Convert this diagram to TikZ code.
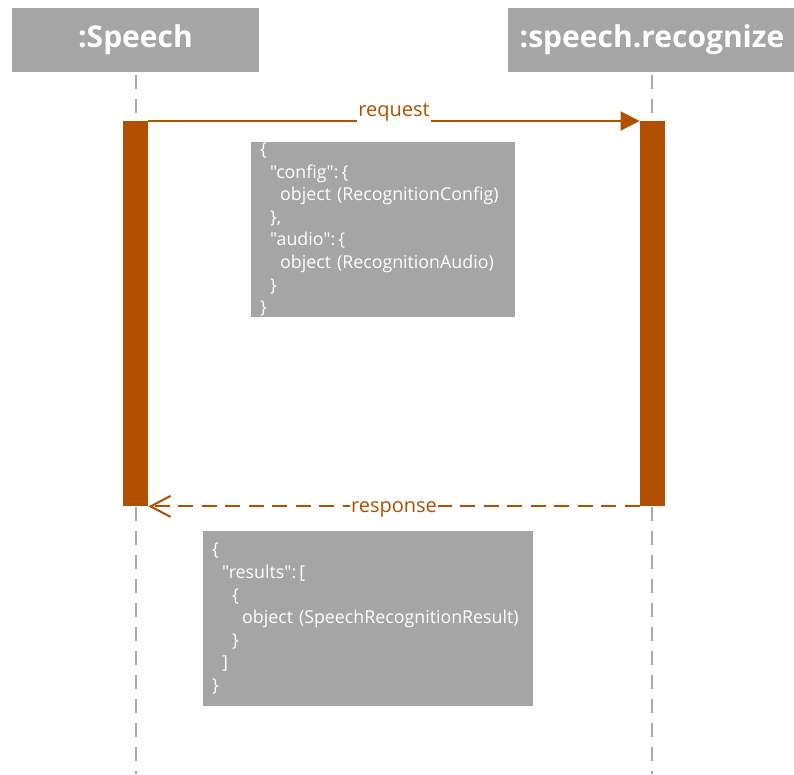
\documentclass[tikz,border=0pt]{standalone}
\usepackage{fontspec}
\setmainfont{Open Sans}[Ligatures=TeXOff]
\usetikzlibrary{arrows.meta}

\definecolor{actorange}{RGB}{176,80,0}
\definecolor{boxgray}{RGB}{165,165,165}
\definecolor{linegray}{RGB}{168,168,168}

\newcommand{\jsep}{:\hspace{3pt}}

\tikzset{
  header/.style={rectangle, fill=boxgray, draw=none, minimum height=64pt,
    inner sep=0pt, text=white, font=\fontsize{30}{34}\selectfont\bfseries},
  lifeline/.style={draw=linegray, line width=2pt,
    dash pattern=on 14pt off 10pt, dash phase=21pt},
  activation/.style={rectangle, fill=actorange, draw=none, inner sep=0pt,
    minimum width=25.5pt, minimum height=385pt},
  jsonbox/.style={rectangle, fill=boxgray, draw=none, anchor=north west,
    inner xsep=9pt, inner ysep=0pt, minimum height=175pt, align=left,
    text=white, font=\fontsize{17.8}{22.6}\selectfont},
  msglabel/.style={fill=white, text=actorange, inner xsep=1pt, inner ysep=2pt,
    font=\fontsize{20}{24}\selectfont},
  call/.style={draw=actorange, line width=2pt, -{Triangle[length=19pt,width=19pt]}},
  reply/.style={draw=actorange, line width=2pt, dash pattern=on 15pt off 8.5pt,
    -{Straight Barb[length=20pt,width=21pt]}},
}

\begin{document}
\begin{tikzpicture}[x=1pt, y=-1pt]
  \useasboundingbox (0,0) rectangle (794,774);

  % participants
  \node[header, minimum width=247pt] (speech) at (135.5,40) {:Speech};
  \node[header, minimum width=288pt] (recog) at (652,40) {:speech.recognize};

  % lifeline ends
  \coordinate (speechend) at (135.5,774);
  \coordinate (recogend) at (652,774);
  \draw[lifeline] (speech.south) -- (speechend);
  \draw[lifeline] (recog.south) -- (recogend);

  % activation bars
  \node[activation, anchor=north] (actspeech) at (135.5,121) {};
  \node[activation, anchor=north] (actrecog) at (652.5,121) {};

  % messages
  \draw[call] (actspeech.north east) -- (actrecog.north west)
    node[msglabel, midway, anchor=base, yshift=5pt] {request};
  \draw[reply] (actrecog.south west) -- (actspeech.south east)
    node[msglabel, midway, anchor=base, yshift=-6pt, inner ysep=0pt] {response};

  % payloads
  \node[jsonbox, text width=246pt] (reqbody) at (251,142) {%
    \{\\
    \hspace*{10pt}"config"\jsep\{\\
    \hspace*{20pt}object (RecognitionConfig)\\
    \hspace*{10pt}\},\\
    \hspace*{10pt}"audio"\jsep\{\\
    \hspace*{20pt}object (RecognitionAudio)\\
    \hspace*{10pt}\}\\
    \}};
  \node[jsonbox, text width=312pt] (respbody) at (203,531) {%
    \{\\
    \hspace*{10pt}"results"\jsep[\\
    \hspace*{20pt}\{\\
    \hspace*{30pt}object (SpeechRecognitionResult)\\
    \hspace*{20pt}\}\\
    \hspace*{10pt}]\\
    \}};
\end{tikzpicture}
\end{document}
